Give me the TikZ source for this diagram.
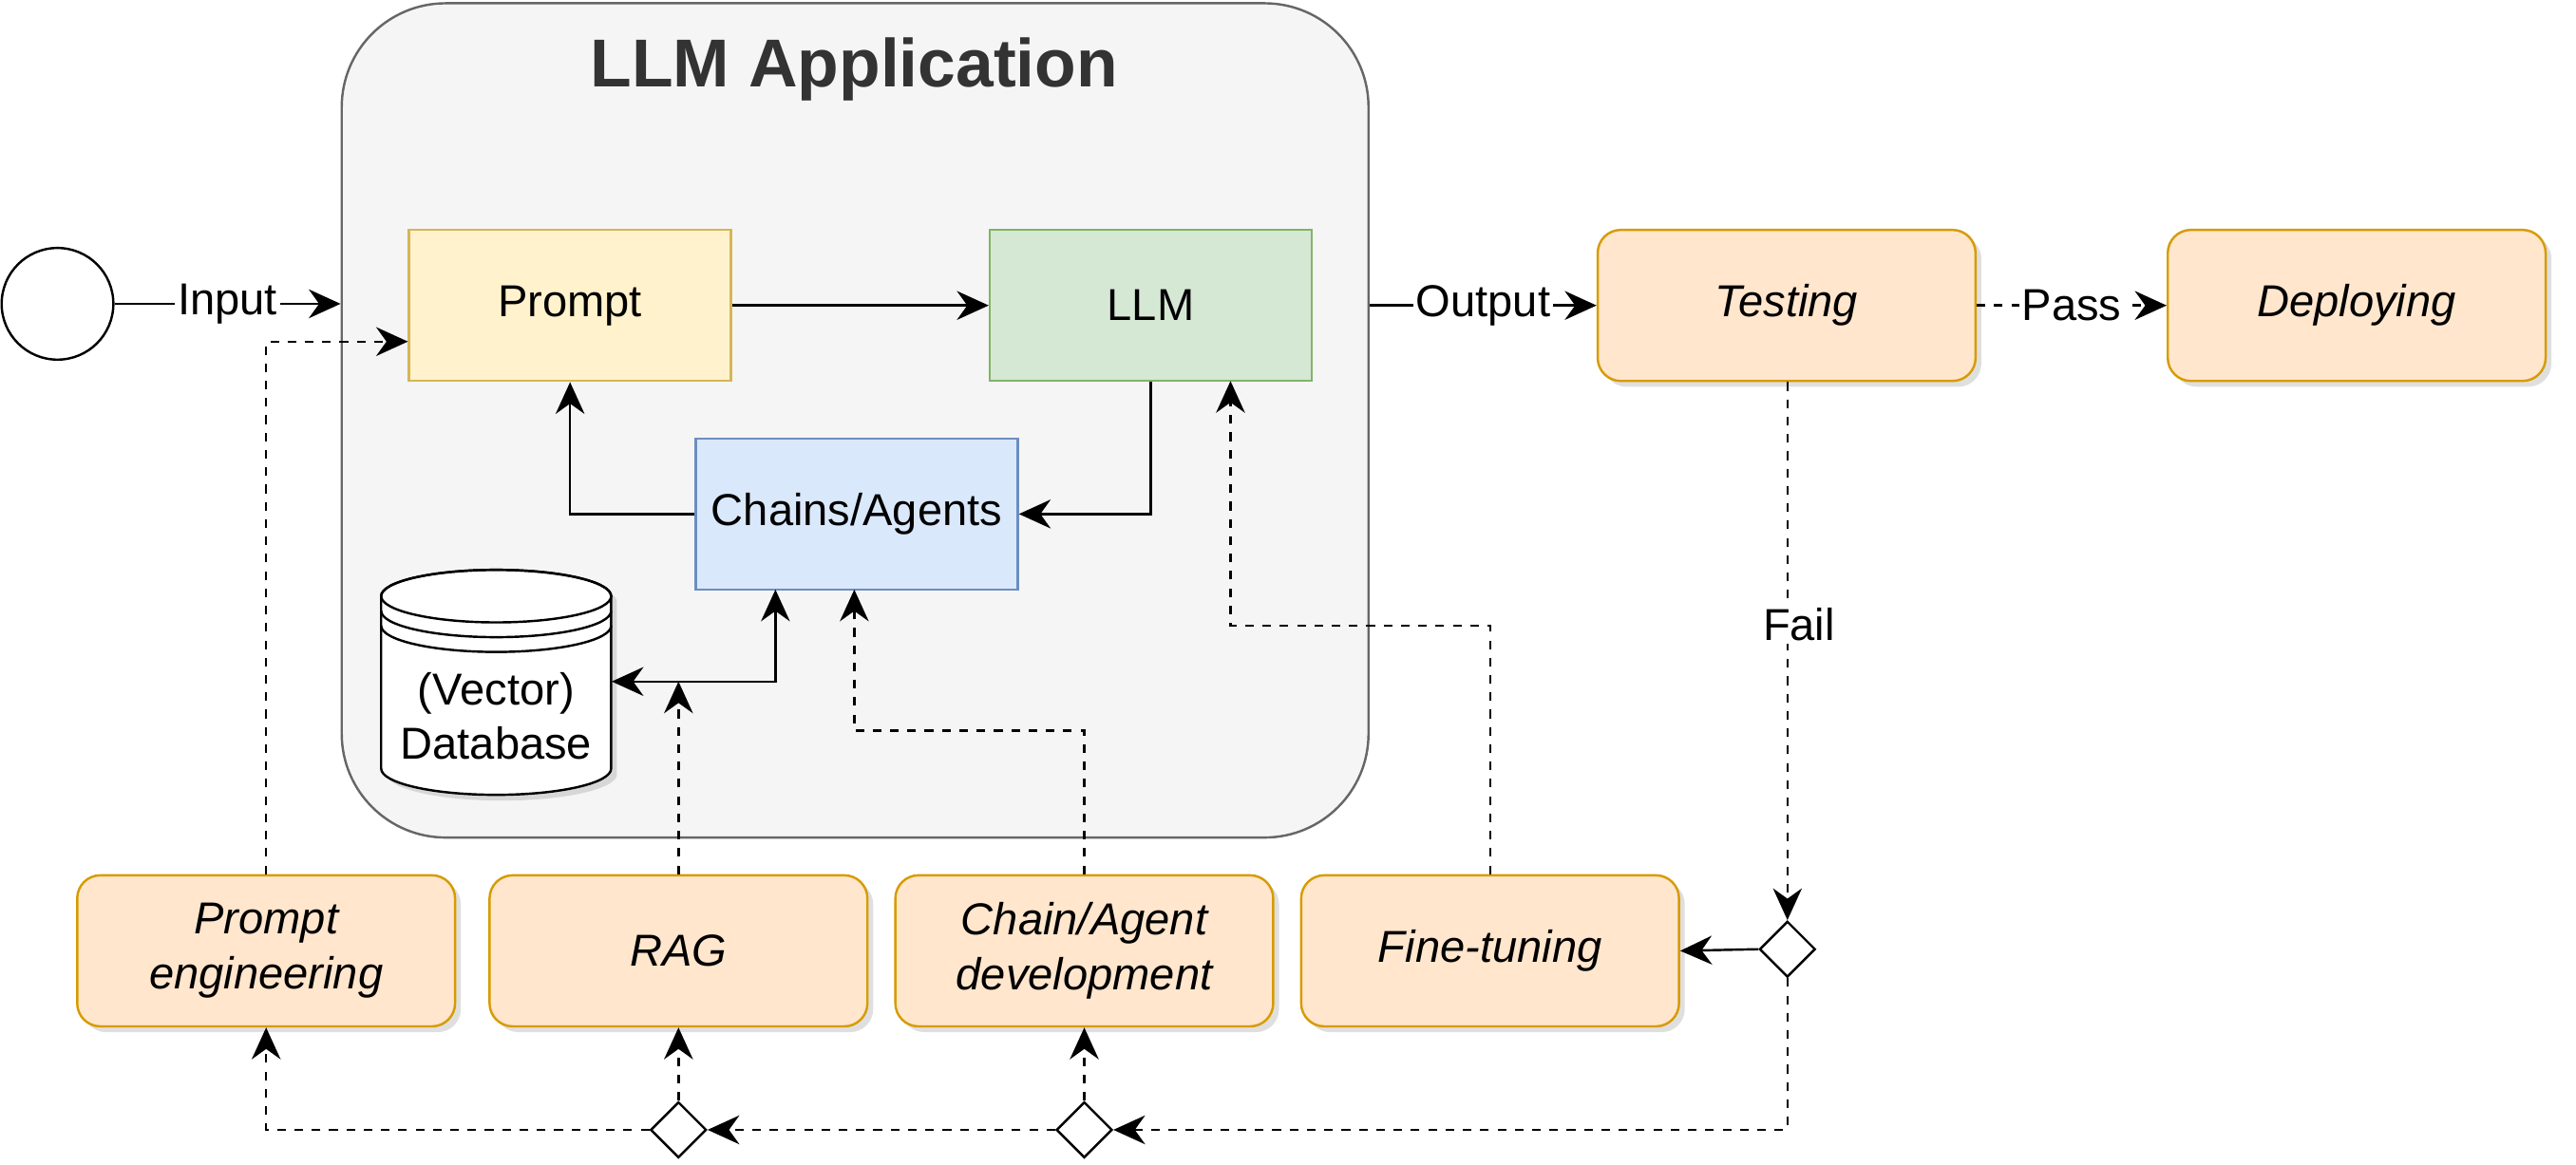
\documentclass[tikz,border=0pt]{standalone}
\usepackage{fontspec}
\setmainfont{Liberation Sans}
\usetikzlibrary{shapes.geometric,arrows.meta,shadows}
\definecolor{appfill}{HTML}{F5F5F5}
\definecolor{appline}{HTML}{666666}
\definecolor{ylwfill}{HTML}{FFF2CC}
\definecolor{ylwline}{HTML}{D6B656}
\definecolor{grnfill}{HTML}{D5E8D4}
\definecolor{grnline}{HTML}{82B366}
\definecolor{blufill}{HTML}{DAE8FC}
\definecolor{bluline}{HTML}{6C8EBF}
\definecolor{orgfill}{HTML}{FFE6CC}
\definecolor{orgline}{HTML}{D79B00}
\tikzset{
  txt/.style={font=\fontsize{15.5}{19}\selectfont},
  part/.style={txt, draw, thick, minimum width=196*0.02cm, minimum height=92*0.02cm, align=center},
  stage/.style={txt, draw=orgline, fill=orgfill, thick, rounded corners=8pt, minimum width=230*0.02cm,
    minimum height=92*0.02cm, align=center, font=\fontsize{15.5}{19}\selectfont\itshape,
    drop shadow={shadow xshift=2pt, shadow yshift=-2pt, opacity=0.25}},
  gate/.style={draw, thick, fill=white, diamond, minimum width=34*0.02cm, minimum height=34*0.02cm, inner sep=0pt},
  flow/.style={thick, -{Stealth[length=11pt,width=10pt]}},
  test/.style={flow, dashed},
  lbl/.style={txt, fill=white, inner sep=1pt}
}
\begin{document}
\begin{tikzpicture}[x=0.02cm, y=-0.02cm]
\useasboundingbox (0,0) rectangle (1568,709);

% application frame
\node[draw=appline, fill=appfill, thick, rounded corners=36pt, minimum width=625*0.02cm, minimum height=508*0.02cm] (app) at (520.5,256) {};
\node[font=\fontsize{23.5}{28}\selectfont\bfseries, text=black!80] (title) at (520,42) {LLM Application};

\node[draw, thick, circle, minimum size=68*0.02cm] (start) at (35,185) {};
\node[part, draw=ylwline, fill=ylwfill] (prompt) at (347,186) {Prompt};
\node[part, draw=grnline, fill=grnfill] (llm) at (700.5,186) {LLM};
\node[part, draw=bluline, fill=blufill] (chains) at (521.5,313) {Chains/Agents};

% database drum
\draw[thick, fill=white, drop shadow={shadow xshift=2pt, shadow yshift=-2pt, opacity=0.25}]
  (232,363) -- (232,468) arc[start angle=180, end angle=0, x radius=70, y radius=16]
  -- (372,363) arc[start angle=0, end angle=-180, x radius=70, y radius=16];
\draw[thick] (302,363) ellipse[x radius=70, y radius=16];
\draw[thick] (232,372) arc[start angle=180, end angle=0, x radius=70, y radius=16]
  (232,381) arc[start angle=180, end angle=0, x radius=70, y radius=16];
\node[txt, align=center, minimum width=140*0.02cm] (db) at (302,436) {(Vector)\\Database};

\node[stage] (testing) at (1087.5,186) {Testing};
\node[stage] (deploy) at (1434.5,186) {Deploying};
\node[stage] (pe) at (162,579) {Prompt\\engineering};
\node[stage] (rag) at (413,579) {RAG};
\node[stage] (cad) at (660,579) {Chain/Agent\\development};
\node[stage] (ft) at (907,579) {Fine-tuning};

\node[gate] (g1) at (1088,578) {};
\node[gate] (g2) at (660,688) {};
\node[gate] (g3) at (413,688) {};

% application flow
\draw[flow] (start) -- node[lbl] {Input} (app.west |- start);
\draw[flow] (prompt) -- (llm);
\draw[flow] (llm.south) |- (chains.east);
\draw[flow] (chains.west) -| (prompt.south);
\draw[thick, {Stealth[length=11pt,width=10pt]}-{Stealth[length=11pt,width=10pt]}] (db.east |- 0,415) -| (472,359);
\draw[flow] (app.east |- llm) -- node[lbl] {Output} (testing);

% development loop
\draw[test] (testing) -- node[lbl] {Pass} (deploy);
\draw[test] (testing.south -| g1) -- node[lbl, pos=0.45, xshift=4pt] {Fail} (g1.north);
\draw[flow] (g1.west) -- (ft.east);
\draw[test] (g1.south) |- (g2.east);
\draw[test] (g2.west) -- (g3.east);
\draw[test] (g2.north) -- (cad.south);
\draw[test] (g3.north) -- (rag.south);
\draw[test] (g3.west) -| (pe.south);
\draw[test] (pe.north) |- (prompt.west |- 0,208);
\draw[test] (rag.north) -- (413,415);
\draw[test] (cad.north) |- (520,445) -- (520,359);
\draw[test] (ft.north) |- (749,381) -- (749,232);
\end{tikzpicture}
\end{document}
